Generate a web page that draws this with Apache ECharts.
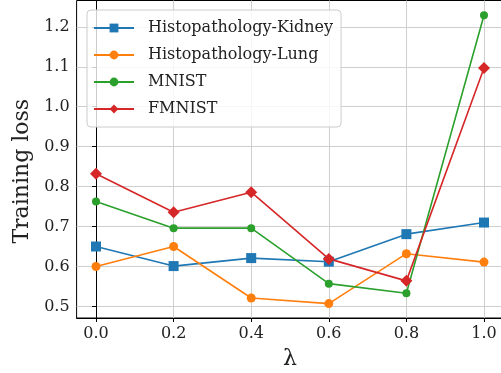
<!DOCTYPE html>
<html>
<head>
    <meta charset="UTF-8">
    <title>Training loss</title>
    <script src="https://cdn.jsdelivr.net/npm/echarts@6/dist/echarts.min.js"></script>
    <style>
        html, body { margin: 0; padding: 0; background: #fff; }
        #main { width: 501px; height: 373px; }
    </style>
</head>
<body>
<div id="main"></div>
<script type="text/javascript">
    // lambda values on the x axis
    var lambdas = [0.0, 0.2, 0.4, 0.6, 0.8, 1.0];
    // training loss per dataset
    var kidney = [0.650, 0.601, 0.621, 0.612, 0.681, 0.710];
    var lung = [0.600, 0.650, 0.521, 0.507, 0.632, 0.611];
    var mnist = [0.763, 0.696, 0.696, 0.557, 0.533, 1.229];
    var fmnist = [0.832, 0.736, 0.786, 0.619, 0.564, 1.097];
    // tick positions
    var xTicks = [0.0, 0.2, 0.4, 0.6, 0.8, 1.0];
    var yTicks = [0.5, 0.6, 0.7, 0.8, 0.9, 1.0, 1.1, 1.2];

    var serif = '"DejaVu Serif", "Liberation Serif", serif';

    function pairs(ys) {
        var out = [];
        for (var i = 0; i < lambdas.length; i++) {
            out.push([lambdas[i], ys[i]]);
        }
        return out;
    }

    // only label the "nice" ticks, not the axis ends
    function tickLabel(step, digits) {
        return function (v) {
            var k = Math.round(v / step);
            if (Math.abs(k * step - v) > 1e-6) return '';
            return (k * step).toFixed(digits);
        };
    }

    function line(name, data, color, symbol, size) {
        return {
            name: name,
            type: 'line',
            data: pairs(data),
            symbol: symbol,
            symbolSize: size,
            showSymbol: true,
            animation: false,
            lineStyle: { color: color, width: 1.6 },
            itemStyle: { color: color }
        };
    }

    var myChart = echarts.init(document.getElementById('main'));
    myChart.setOption({
        animation: false,
        grid: {
            left: 76.6,
            top: 0.5,
            width: 426.8,
            bottom: 55,
            outerBoundsMode: 'none',
            containLabel: false,
            show: true,
            borderColor: '#000',
            borderWidth: 1,
            backgroundColor: 'transparent'
        },
        legend: {
            orient: 'vertical',
            left: 87,
            top: 10,
            padding: [8, 8, 8, 6],
            itemGap: 7,
            itemWidth: 40,
            itemHeight: 11,
            backgroundColor: 'rgba(255,255,255,0.8)',
            borderColor: '#cccccc',
            borderWidth: 1,
            borderRadius: 4,
            textStyle: {
                fontFamily: serif, fontSize: 16, color: '#222', lineHeight: 20,
                padding: [0, 0, 0, 9]
            },
            data: ['Histopathology-Kidney', 'Histopathology-Lung', 'MNIST', 'FMNIST']
        },
        xAxis: {
            type: 'value',
            min: -0.05,
            max: 1.05,
            splitNumber: 5,
            name: 'λ',
            nameLocation: 'middle',
            nameGap: 30,
            nameTextStyle: { fontFamily: serif, fontSize: 22, color: '#222' },
            axisLine: { show: true, lineStyle: { color: '#000', width: 1 } },
            axisTick: { show: true, length: 4, customValues: xTicks, lineStyle: { color: '#000' } },
            axisLabel: {
                fontFamily: serif, fontSize: 16, color: '#222', margin: 8,
                customValues: xTicks,
                formatter: tickLabel(0.2, 1)
            },
            splitLine: { show: true, lineStyle: { color: '#cfcfcf', width: 1 } }
        },
        yAxis: {
            type: 'value',
            min: 0.471,
            max: 1.266,
            splitNumber: 8,
            name: 'Training loss',
            nameLocation: 'middle',
            nameGap: 40,
            nameTextStyle: {
                fontFamily: serif, fontSize: 22, color: '#222',
                padding: [0, 24, 0, 0]
            },
            axisLine: { show: true, lineStyle: { color: '#000', width: 1 } },
            axisTick: { show: true, length: 4, customValues: yTicks, lineStyle: { color: '#000' } },
            axisLabel: {
                fontFamily: serif, fontSize: 16, color: '#222', margin: 7,
                customValues: yTicks,
                formatter: tickLabel(0.1, 1)
            },
            splitLine: { show: true, lineStyle: { color: '#cfcfcf', width: 1 } }
        },
        series: [
            line('Histopathology-Kidney', kidney, '#1f77b4', 'rect', 10),
            line('Histopathology-Lung', lung, '#ff7f0e', 'circle', 9),
            line('MNIST', mnist, '#2ca02c', 'circle', 8),
            line('FMNIST', fmnist, '#d62728', 'diamond', 12)
        ]
    });
</script>
</body>
</html>
